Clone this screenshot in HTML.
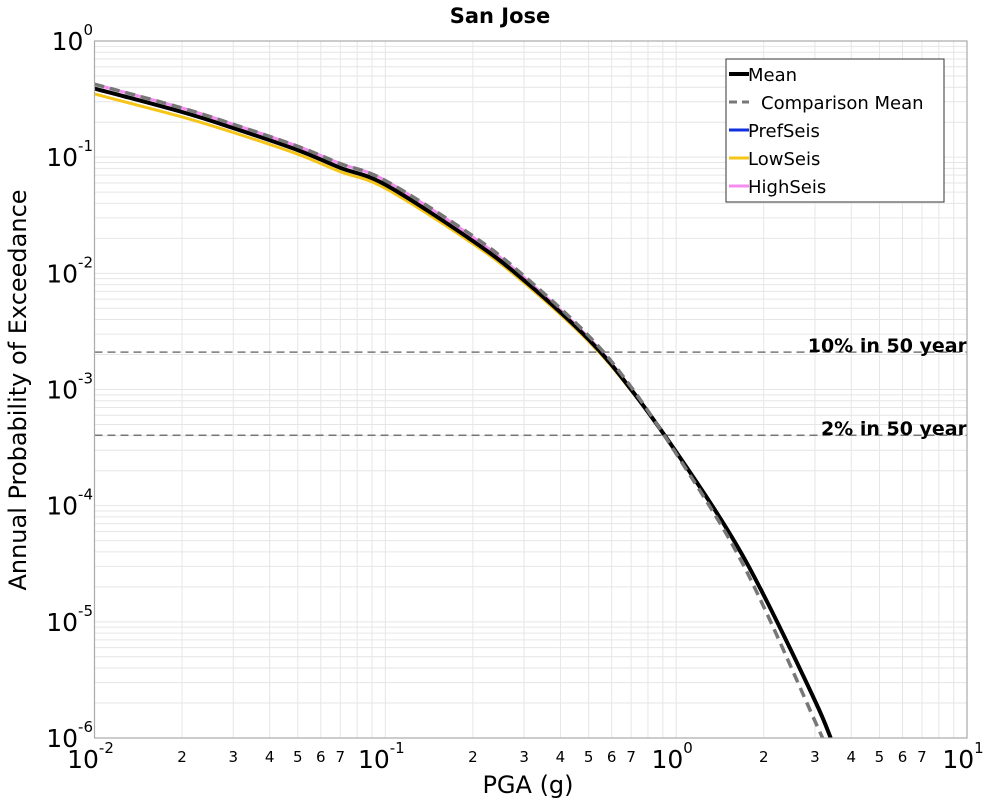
<!DOCTYPE html>
<html><head><meta charset="utf-8"><style>
body{margin:0;background:#fff;font-family:"Liberation Sans","DejaVu Sans",sans-serif}
svg text{font-family:"DejaVu Sans","Liberation Sans",sans-serif}
</style></head><body>
<svg id="chart" width="1000" height="800" xmlns="http://www.w3.org/2000/svg">
<text x="500" y="23" text-anchor="middle" font-size="21" font-weight="bold">San Jose</text>
<text x="528" y="793" text-anchor="middle" font-size="24">PGA (g)</text>
<text transform="translate(26,390) rotate(-90)" text-anchor="middle" font-size="24">Annual Probability of Exceedance</text>
<g id="grid"></g>
<g id="series"></g>
<g id="axes"></g>
</svg>
<script>
const xVals=[0.01,0.02,0.03,0.05,0.07,0.1,0.2,0.3,0.5,0.7,1,1.5,2,3,3.4];
const meanVals=[0.39,0.245,0.178,0.115,0.081,0.058,0.019,0.0087,0.0027,0.001,0.00029,0.000062,0.000017,0.0000021,0.000001];
const compVals=[0.425,0.265,0.192,0.124,0.088,0.063,0.021,0.0095,0.0029,0.00105,0.00028,0.000055,0.0000135,0.0000014,0.0000007];
const lowVals=[0.35,0.222,0.163,0.106,0.075,0.054,0.018,0.0083,0.0026,0.00098,0.00029,0.000062,0.000017,0.0000021,0.000001];
const highVals=[0.425,0.265,0.192,0.124,0.088,0.063,0.0205,0.0092,0.0028,0.00102,0.00029,0.000062,0.000017,0.0000021,0.000001];
const prefVals=meanVals.slice();
const hazardLevels=[0.0021,0.000404];
const hazardLabels=["10% in 50 year","2% in 50 year"];
const xTickExps=[-2,-1,0,1];
const yTickExps=[0,-1,-2,-3,-4,-5,-6];
const minorLabels=[2,3,4,5,6,7];
const L=94.5,R=967,T=41,B=738;
const xs=v=>L+(Math.log10(v)+2)/3*(R-L);
const ys=v=>T+(-Math.log10(v))/6*(B-T);
const NS="http://www.w3.org/2000/svg";
function mk(tag,attrs,parent){const e=document.createElementNS(NS,tag);for(const k in attrs)e.setAttribute(k,attrs[k]);parent.appendChild(e);return e;}
const grid=document.getElementById('grid'),axes=document.getElementById('axes'),series=document.getElementById('series');
for(let d=-2;d<1;d++)for(let m=1;m<10;m++){const v=m*Math.pow(10,d);const x=xs(v);
 const l=mk('line',{x1:x,x2:x,y1:T,y2:B,stroke:'#e6e6e6','stroke-width':1},grid);
 
 
 if(minorLabels.includes(m)){const t=mk('text',{x:x,y:762,'text-anchor':'middle','font-size':15},axes);t.textContent=m;
 
 }}
for(let d=-6;d<0;d++)for(let m=1;m<10;m++){const v=m*Math.pow(10,d);const y=ys(v);
 const l=mk('line',{x1:L,x2:R,y1:y,y2:y,stroke:'#e6e6e6','stroke-width':1},grid);
 
 }
mk('rect',{x:L,y:T,width:R-L,height:B-T,fill:'none',stroke:'#aaa','stroke-width':1.2},axes);
xTickExps.forEach(e=>{const x=xs(Math.pow(10,e));const t=mk('text',{x:x-4,y:768,'text-anchor':'middle','font-size':25},axes);
 t.innerHTML='10<tspan dy="-15" font-size="15">'+e+'</tspan>';
 
 });
yTickExps.forEach(e=>{const y=ys(Math.pow(10,e));const t=mk('text',{x:93,y:y+9,'text-anchor':'end','font-size':25},axes);
 t.innerHTML='10<tspan dy="-15" font-size="15">'+e+'</tspan>';
 
 });
hazardLevels.forEach((h,i)=>{const y=ys(h);
 const l=mk('line',{x1:L,x2:R,y1:y,y2:y,stroke:'#777','stroke-width':1.5,'stroke-dasharray':'8,5'},series);
 
 
 const t=mk('text',{x:967,y:y,'text-anchor':'end','font-size':19,'font-weight':'bold'},series);t.textContent=hazardLabels[i];
 
 });
const cp=mk('clipPath',{id:'cp'},series);mk('rect',{x:L,y:T,width:R-L,height:B-T},cp);
function line(vals,color,w,dash,name){
 const P=xVals.map((x,i)=>[xs(x),ys(vals[i])]);
 let d='M'+P[0][0].toFixed(1)+','+P[0][1].toFixed(1);
 for(let i=0;i<P.length-1;i++){const p0=P[Math.max(i-1,0)],p1=P[i],p2=P[i+1],p3=P[Math.min(i+2,P.length-1)];
  const c1=[p1[0]+(p2[0]-p0[0])/6,p1[1]+(p2[1]-p0[1])/6],c2=[p2[0]-(p3[0]-p1[0])/6,p2[1]-(p3[1]-p1[1])/6];
  d+='C'+c1[0].toFixed(1)+','+c1[1].toFixed(1)+' '+c2[0].toFixed(1)+','+c2[1].toFixed(1)+' '+p2[0].toFixed(1)+','+p2[1].toFixed(1);}
 const p=mk('path',{d:d,fill:'none',stroke:color,'stroke-width':w,'stroke-linejoin':'round','clip-path':'url(#cp)'},series);
 if(dash)p.setAttribute('stroke-dasharray',dash);
 
 }
line(highVals,'#f48cf0',3,null,'highseis-line');
line(lowVals,'#f5c518',3,null,'lowseis-line');
line(prefVals,'#1030e0',3,null,'prefseis-line');
line(meanVals,'#000',4,null,'mean-line');
line(compVals,'#777',3.5,'10,6','comparison-mean-line');
const lg=mk('g',{},axes);


mk('rect',{x:726,y:59,width:218,height:143,fill:'#fff',stroke:'#333','stroke-width':1},lg);
const entries=[['Mean','#000',4,null],['Comparison Mean','#777',3,'8,5'],['PrefSeis','#1030e0',3,null],['LowSeis','#f5c518',3,null],['HighSeis','#f48cf0',3,null]];
entries.forEach((en,i)=>{const y=74+i*28;
 const l=mk('line',{x1:729,x2:749,y1:y,y2:y,stroke:en[1],'stroke-width':en[2]},lg);
 if(en[3])l.setAttribute('stroke-dasharray',en[3]);
 const t=mk('text',{x:en[3]?761:748,y:y+7,'font-size':18},lg);t.textContent=en[0];
 
 });
</script>
</body></html>
